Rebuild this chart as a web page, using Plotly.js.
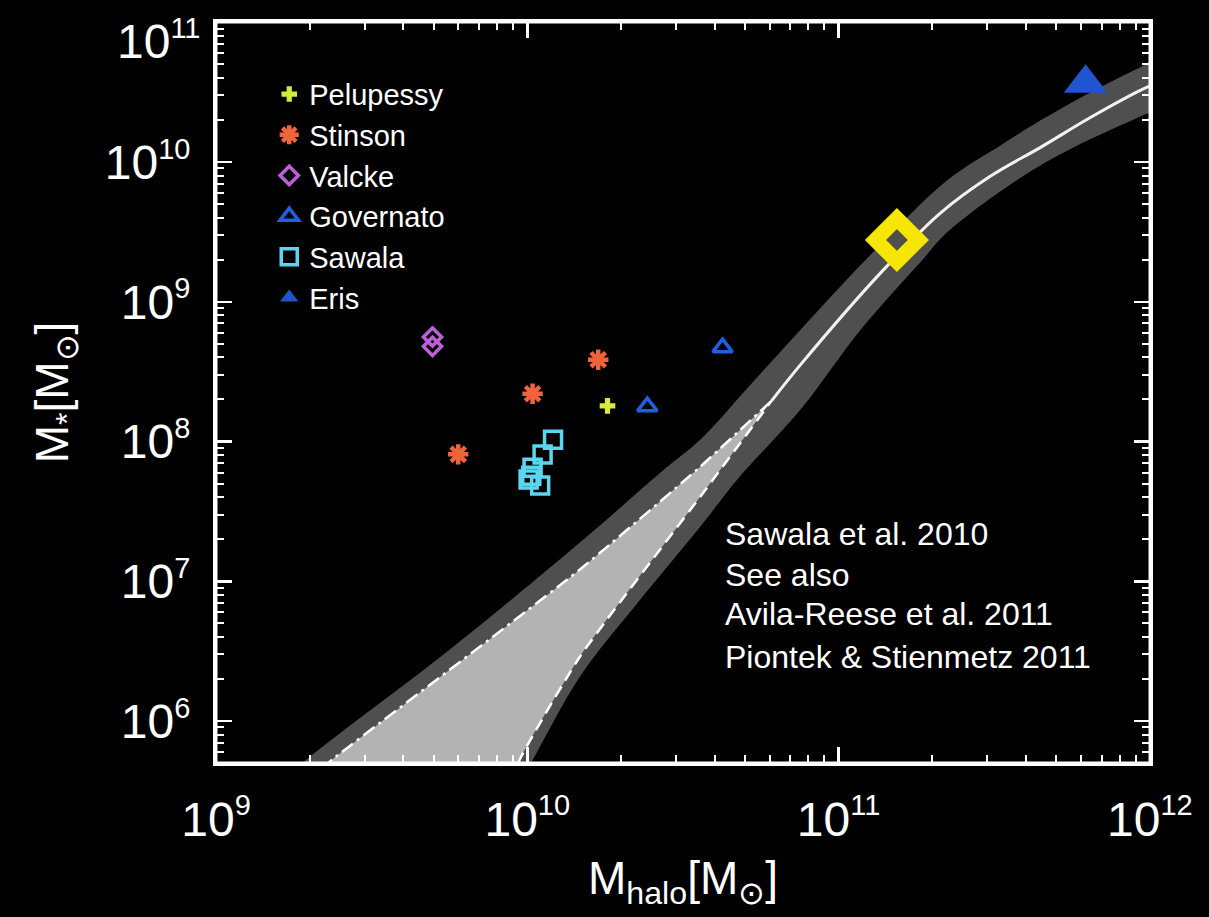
<!DOCTYPE html>
<html>
<head>
<meta charset="utf-8">
<script src="https://cdn.plot.ly/plotly-3.0.1.min.js"></script>
<style>
  html, body { margin: 0; padding: 0; background: #000; }
  #chart { width: 1209px; height: 917px; }
</style>
</head>
<body>
<div id="chart"></div>
<script>
// ---------------- data (halo mass, stellar mass in solar masses) ----------------
const pelupessyHalo = [1.81e10];
const pelupessyStar = [1.80e8];

const stinsonHalo = [1.69e10, 1.04e10, 6.0e9];
const stinsonStar = [3.85e8, 2.20e8, 8.1e7];

const valckeHalo = [4.96e9, 4.96e9];
const valckeStar = [5.6e8, 4.8e8];

const governatoHalo = [2.43e10, 4.24e10];
const governatoStar = [1.78e8, 4.7e8];

const sawalaHalo = [1.21e10, 1.12e10, 1.04e10, 1.01e10, 1.10e10, 1.03e10];
const sawalaStar = [1.03e8, 8.07e7, 6.5e7, 5.35e7, 4.85e7, 5.7e7];

const erisHalo = [6.22e11];
const erisStar = [3.66e10];

const milkyWayHalo = [1.54e11];
const milkyWayStar = [2.77e9];

// abundance-matching relation (solid white line)
const relationHalo = [6.10e10, 7.55e10, 1.365e11, 2.128e11, 3.08e11, 4.47e11, 6.46e11, 9.35e11, 1.17e12];
const relationStar = [1.963e8, 3.55e8, 1.61e9, 4.33e9, 7.94e9, 1.279e10, 2.09e10, 3.27e10, 4.05e10];

// scatter band: upper and lower edges
const bandUpperHalo = [1.285e9, 1.963e9, 5.65e9, 1.479e10, 2.68e10, 3.60e10, 5.21e10, 7.55e10, 1.268e11, 2.239e11, 3.32e11, 4.47e11, 6.46e11, 9.35e11, 1.17e12];
const bandUpperStar = [2.35e5, 5.36e5, 3.27e6, 1.90e7, 6.01e7, 1.033e8, 2.55e8, 6.31e8, 2.17e9, 7.43e9, 1.321e10, 1.995e10, 3.16e10, 4.78e10, 6.11e10];
const bandLowerHalo = [8.81e9, 1.045e10, 1.479e10, 2.31e10, 3.60e10, 4.73e10, 7.55e10, 1.178e11, 1.837e11, 2.239e11, 4.47e11, 9.35e11, 1.17e12];
const bandLowerStar = [2.77e5, 5.36e5, 2.09e6, 7.43e6, 2.47e7, 5.36e7, 1.694e8, 6.31e8, 1.932e9, 3.16e9, 9.53e9, 2.13e10, 2.64e10];

// extrapolation wedge (dashed lines)
const wedgeUpperHalo = [1.862e9, 2.377e9, 1.479e10, 3.60e10, 6.10e10];
const wedgeUpperStar = [3.44e5, 5.36e5, 1.219e7, 6.62e7, 1.963e8];
const wedgeLowerHalo = [8.49e9, 9.48e9, 1.479e10, 3.60e10, 6.10e10];
const wedgeLowerStar = [2.77e5, 5.36e5, 2.91e6, 4.05e7, 1.963e8];

// axis ticks
const xMajor = [1e9, 1e10, 1e11, 1e12];
const xExponents = ['9', '10', '11', '12'];
const yMajor = [1e6, 1e7, 1e8, 1e9, 1e10, 1e11];
const yExponents = ['6', '7', '8', '9', '10', '11'];
const minorDigits = [2, 3, 4, 5, 6, 7, 8, 9];
const xDecades = [1e9, 1e10, 1e11];
const yDecades = [1e5, 1e6, 1e7, 1e8, 1e9, 1e10];

const annotationLines = ['Sawala et al. 2010', 'See also', 'Avila-Reese et al. 2011', 'Piontek & Stienmetz 2011'];

// ---------------- build ----------------
const xMinor = [];
xDecades.forEach(d => minorDigits.forEach(m => xMinor.push(d * m)));
const yMinor = [];
yDecades.forEach(d => minorDigits.forEach(m => yMinor.push(d * m)));

const powLabel = e => '10<sup><span style="font-size:29px">' + e + '</span></sup>';
const xMajorText = xExponents.map(powLabel);
// the top label (10^11) is drawn as an annotation, nudged down to stay inside the page
const yMajorText = yExponents.map((e, i) => i === yExponents.length - 1 ? '' : powLabel(e));

const FONT = 'Liberation Sans, Arial, Helvetica, sans-serif';

const traces = [];

// dark band
traces.push({
  x: bandUpperHalo.concat(bandLowerHalo.slice().reverse()),
  y: bandUpperStar.concat(bandLowerStar.slice().reverse()),
  mode: 'lines', fill: 'toself', fillcolor: '#4f4f4f',
  line: { width: 0, color: '#4f4f4f', shape: 'spline', smoothing: 1 },
  showlegend: false, hoverinfo: 'skip'
});
// light wedge
traces.push({
  x: wedgeUpperHalo.concat(wedgeLowerHalo.slice().reverse()),
  y: wedgeUpperStar.concat(wedgeLowerStar.slice().reverse()),
  mode: 'lines', fill: 'toself', fillcolor: '#b3b3b3',
  line: { width: 0, color: '#b3b3b3', shape: 'spline', smoothing: 0.5 },
  showlegend: false, hoverinfo: 'skip'
});
// dashed boundaries
traces.push({
  x: wedgeUpperHalo, y: wedgeUpperStar, mode: 'lines',
  line: { color: '#ffffff', width: 2.5, dash: '14px,5px,3px,5px', shape: 'spline', smoothing: 0.5 },
  showlegend: false, hoverinfo: 'skip'
});
traces.push({
  x: wedgeLowerHalo, y: wedgeLowerStar, mode: 'lines',
  line: { color: '#ffffff', width: 2.5, dash: '12px,7px', shape: 'spline', smoothing: 0.5 },
  showlegend: false, hoverinfo: 'skip'
});
// solid relation
traces.push({
  x: relationHalo, y: relationStar, mode: 'lines',
  line: { color: '#f2f2f2', width: 3, shape: 'spline', smoothing: 1 },
  showlegend: false, hoverinfo: 'skip'
});

// simulations
traces.push({
  name: 'Pelupessy', x: pelupessyHalo, y: pelupessyStar, mode: 'markers',
  marker: { symbol: 'cross', size: 13, color: '#d6ea3e', line: { width: 0 } }
});
traces.push({
  name: 'Stinson', x: stinsonHalo, y: stinsonStar, mode: 'markers',
  marker: { symbol: 'asterisk-open', size: 17, color: '#f0643c', line: { width: 4.5, color: '#f0643c' } }
});
traces.push({
  name: 'Valcke', x: valckeHalo, y: valckeStar, mode: 'markers',
  marker: { symbol: 'diamond-open', size: 14, color: '#bd5fd6', line: { width: 3.5, color: '#bd5fd6' } }
});
traces.push({
  name: 'Governato', x: governatoHalo, y: governatoStar, mode: 'markers',
  marker: { symbol: 'triangle-up-open', size: 17, color: '#1f60e0', line: { width: 3.5, color: '#1f60e0' } }
});
traces.push({
  name: 'Sawala', x: sawalaHalo, y: sawalaStar, mode: 'markers',
  marker: { symbol: 'square-open', size: 17, color: '#5cd6ee', line: { width: 3.5, color: '#5cd6ee' } }
});
traces.push({
  name: 'Eris', x: erisHalo, y: erisStar, mode: 'markers',
  marker: { symbol: 'triangle-up', size: 38, color: '#1f55d0', line: { width: 0 } }
});
// Milky Way
traces.push({
  x: milkyWayHalo, y: milkyWayStar, mode: 'markers',
  marker: { symbol: 'diamond-open', size: 33, color: '#f7e600', line: { width: 15, color: '#f7e600' } },
  showlegend: false, hoverinfo: 'skip'
});

const axisCommon = {
  type: 'log', showgrid: false, zeroline: false,
  showline: true, linecolor: '#ffffff', linewidth: 3, mirror: 'allticks',
  ticks: 'inside', ticklen: 16, tickwidth: 2.5, tickcolor: '#ffffff',
  ticklabeloverflow: 'allow',
  tickfont: { family: FONT, size: 48, color: '#ffffff' }
};

const annotations = annotationLines.map((t, i) => ({
  xref: 'paper', yref: 'paper', x: 0.543, y: [0.309, 0.2537, 0.2011, 0.143][i],
  xanchor: 'left', yanchor: 'middle', text: t, showarrow: false,
  font: { family: FONT, size: 32, color: '#ffffff' }
}));
annotations.push({
  xref: 'paper', yref: 'paper', x: 0, y: 1, xanchor: 'right', yanchor: 'top',
  xshift: -13, yshift: 12, text: powLabel(yExponents[yExponents.length - 1]), showarrow: false,
  font: { family: FONT, size: 48, color: '#ffffff' }
});

const layout = {
  width: 1209, height: 917,
  paper_bgcolor: '#000000', plot_bgcolor: '#000000',
  margin: { l: 216, r: 59, t: 22, b: 154 },
  showlegend: true,
  legend: {
    x: 0.057, y: 0.937, xanchor: 'left', yanchor: 'top',
    bgcolor: 'rgba(0,0,0,0)', font: { family: FONT, size: 29, color: '#ffffff' },
    itemsizing: 'trace'
  },
  xaxis: Object.assign({}, axisCommon, {
    range: [9, 12.0005], tickvals: xMajor, ticktext: xMajorText,
    ticklabelstandoff: 12,
    minor: { tickmode: 'array', tickvals: xMinor, ticks: 'inside', ticklen: 8, tickwidth: 2, tickcolor: '#ffffff', showgrid: false },
    title: { text: 'M<sub>halo</sub>[M<sub>⊙</sub>]', font: { family: FONT, size: 46, color: '#ffffff' }, standoff: 18 }
  }),
  yaxis: Object.assign({}, axisCommon, {
    range: [5.7, 11.002], tickvals: yMajor, ticktext: yMajorText,
    ticklabelstandoff: 13,
    minor: { tickmode: 'array', tickvals: yMinor, ticks: 'inside', ticklen: 8, tickwidth: 2, tickcolor: '#ffffff', showgrid: false },
    title: { text: 'M<sub>*</sub>[M<sub>⊙</sub>]', font: { family: FONT, size: 46, color: '#ffffff' }, standoff: 22 }
  }),
  shapes: [{
    type: 'rect', xref: 'paper', yref: 'paper', x0: 0, x1: 1, y0: 0, y1: 1,
    line: { color: '#ffffff', width: 3 }, fillcolor: 'rgba(0,0,0,0)', layer: 'above'
  }],
  annotations: annotations
};

Plotly.newPlot('chart', traces, layout, { displayModeBar: false, staticPlot: true });
</script>
</body>
</html>
